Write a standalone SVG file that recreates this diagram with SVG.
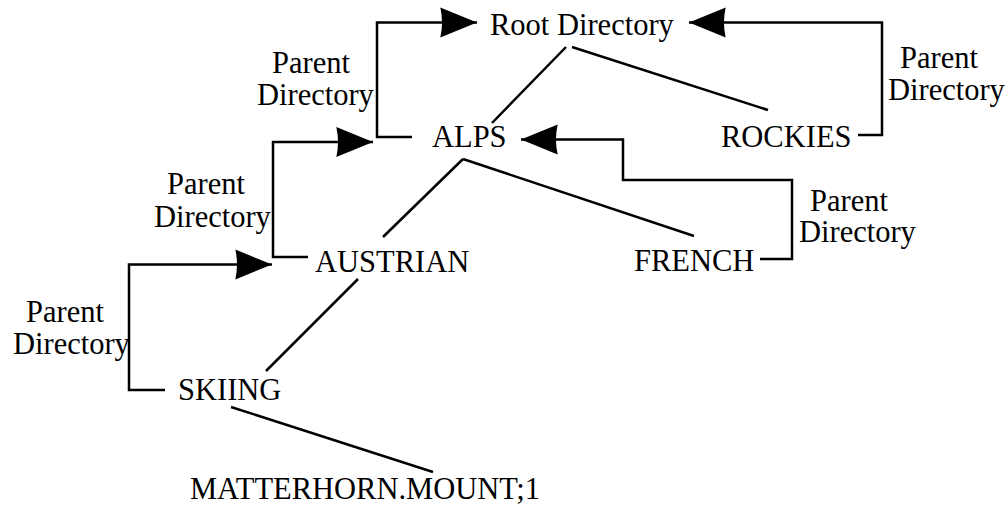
<svg xmlns="http://www.w3.org/2000/svg" width="1007" height="511" viewBox="0 0 1007 511">
<style>
  text { font-family: "Liberation Serif", "DejaVu Serif", serif; font-size: 30.5px; fill: #000; }
  .tree { stroke: #000; stroke-width: 2.5; fill: none; }
  .parent { stroke: #000; stroke-width: 2.5; fill: none; marker-end: url(#arrow); }
</style>
<defs>
  <marker id="arrow" markerUnits="userSpaceOnUse" markerWidth="40" markerHeight="34" viewBox="-34 -15 36 30" refX="0" refY="0" orient="auto" overflow="visible">
    <path d="M0,0 L-33,-13.5 Q-30,0 -33,13.5 Z" fill="#000"/>
  </marker>
</defs>
<rect width="1007" height="511" fill="#fff"/>

<g id="connectors">
  <line class="tree" x1="566" y1="47" x2="492" y2="123"/>
  <line class="tree" x1="572" y1="47" x2="768" y2="110"/>
  <line class="tree" x1="463" y1="159" x2="383" y2="237"/>
  <line class="tree" x1="463" y1="159" x2="694" y2="236"/>
  <line class="tree" x1="358" y1="279" x2="266" y2="371"/>
  <line class="tree" x1="231" y1="407" x2="433" y2="472"/>

  <polyline class="parent" points="412,137 377,137 377,22.5 477,22.5"/>
  <polyline class="parent" points="858,135 882,135 882,22.5 689,22.5"/>
  <polyline class="parent" points="308,257 273,257 273,142 373,142"/>
  <polyline class="parent" points="760,259 792,259 792,180 623,180 623,139.5 521,139.5"/>
  <polyline class="parent" points="165,390 129,390 129,264.5 272,264.5"/>

  <text x="272" y="73">Parent</text>
  <text x="257" y="105">Directory</text>
  <text x="900" y="68">Parent</text>
  <text x="888" y="100">Directory</text>
  <text x="167" y="194">Parent</text>
  <text x="154" y="227">Directory</text>
  <text x="810" y="211">Parent</text>
  <text x="799" y="242">Directory</text>
  <text x="26" y="322">Parent</text>
  <text x="13" y="354">Directory</text>
</g>

<g id="root"><text x="490" y="35">Root Directory</text></g>
<g id="alps"><text x="432" y="147">ALPS</text></g>
<g id="rockies"><text x="721" y="147">ROCKIES</text></g>
<g id="austrian"><text x="315" y="272">AUSTRIAN</text></g>
<g id="french"><text x="634" y="271">FRENCH</text></g>
<g id="skiing"><text x="178" y="400">SKIING</text></g>
<g id="matterhorn"><text x="190" y="499">MATTERHORN.MOUNT;1</text></g>
</svg>
